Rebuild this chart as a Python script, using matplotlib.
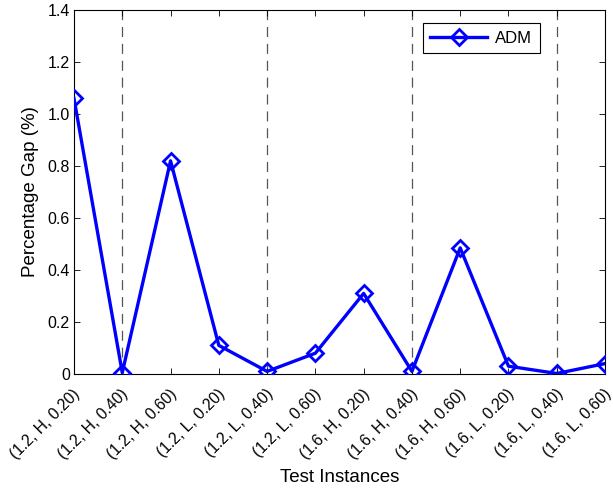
import numpy as np
import matplotlib
matplotlib.use("Agg")
import matplotlib.pyplot as plt
import matplotlib.transforms as mtransforms

plt.rcParams['font.family'] = ['Liberation Sans', 'DejaVu Sans']

# test instances and percentage gap values
instances = ["(1.2, H, 0.20)", "(1.2, H, 0.40)", "(1.2, H, 0.60)",
             "(1.2, L, 0.20)", "(1.2, L, 0.40)", "(1.2, L, 0.60)",
             "(1.6, H, 0.20)", "(1.6, H, 0.40)", "(1.6, H, 0.60)",
             "(1.6, L, 0.20)", "(1.6, L, 0.40)", "(1.6, L, 0.60)"]
adm_gap = [1.06, 0.005, 0.82, 0.11, 0.01, 0.08, 0.31, 0.01, 0.485, 0.03, 0.002, 0.04]
separators = [2, 5, 8, 11]
y_ticks = [0, 0.2, 0.4, 0.6, 0.8, 1.0, 1.2, 1.4]
y_labels = ["0", "0.2", "0.4", "0.6", "0.8", "1.0", "1.2", "1.4"]

x = np.arange(1, len(instances) + 1)

fig = plt.figure(figsize=(6.13, 4.91), dpi=100)
ax = fig.add_axes([0.1207, 0.2383, 0.8663, 0.7413])

for s in separators:
    ax.axvline(s, color="#555555", linestyle=(0, (8, 5.5)), linewidth=0.9, zorder=1)

ax.plot(x, adm_gap, color="blue", linewidth=2.4, marker="D", markersize=8,
        markerfacecolor="none", markeredgecolor="blue", markeredgewidth=2,
        label="ADM", zorder=3)

ax.set_xlim(1, 12)
ax.set_ylim(0, 1.4)
ax.set_xticks(x)
ax.set_xticklabels(instances, rotation=45, ha="right", rotation_mode="anchor", fontsize=11.3)
ax.set_yticks(y_ticks)
ax.set_yticklabels(y_labels, fontsize=11.5)
ax.tick_params(direction="in", top=True, right=True, length=4, width=0.6, pad=3)
for sp in ax.spines.values():
    sp.set_linewidth(0.8)

# shift the rotated labels a bit down, like the original
shift = mtransforms.ScaledTranslation(-1.5 / 100, -8 / 100, fig.dpi_scale_trans)
for lab in ax.get_xticklabels():
    lab.set_transform(lab.get_transform() + shift)

ax.set_xlabel("Test Instances", fontsize=13.5, labelpad=5)
ax.set_ylabel("Percentage Gap (%)", fontsize=13.5, labelpad=6)

leg = ax.legend(loc="upper right", bbox_to_anchor=(0.893, 0.987), fontsize=12,
                fancybox=False, edgecolor="black", framealpha=1,
                handlelength=3.4, borderpad=0.45, handletextpad=0.5)
leg.get_frame().set_linewidth(0.8)

fig.savefig("out.png", dpi=100)
